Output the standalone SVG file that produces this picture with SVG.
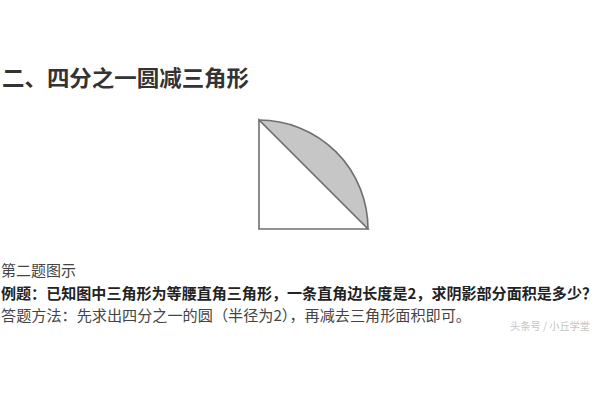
<svg xmlns="http://www.w3.org/2000/svg" width="600" height="400" viewBox="0 0 600 400">
<style>
.t{font-family:"Noto Sans CJK SC","Noto Sans",sans-serif;}
.title{font-size:22px;font-weight:bold;fill:#333;}
.body{font-size:15px;fill:#444;}
.bold{font-weight:bold;fill:#222;}
.wm{font-size:10.5px;fill:#c4c4c4;}
.ln{stroke:#6f6f6f;stroke-width:1.6;fill:none;}
</style>
<rect width="600" height="400" fill="#fff"/>
<text class="t title" x="2" y="86" textLength="247" lengthAdjust="spacingAndGlyphs">二、四分之一圆减三角形</text>
<g id="figure">
<path d="M259,120 A109,109 0 0 1 368,229 Z" fill="#c6c6c6"/>
<path class="ln" d="M259,120 L259,229 L368,229 Z"/>
<path class="ln" d="M259,120 A109,109 0 0 1 368,229"/>
</g>
<text class="t body" x="1" y="276">第二题图示</text>
<text class="t body bold" x="1" y="299" textLength="596" lengthAdjust="spacingAndGlyphs">例题：已知图中三角形为等腰直角三角形，一条直角边长度是2，求阴影部分面积是多少？</text>
<text class="t body" x="1" y="321" textLength="470" lengthAdjust="spacingAndGlyphs">答题方法：先求出四分之一的圆（半径为2），再减去三角形面积即可。</text>
<text class="t wm" x="510" y="330" textLength="80" lengthAdjust="spacingAndGlyphs">头条号 / 小丘学堂</text>
</svg>
